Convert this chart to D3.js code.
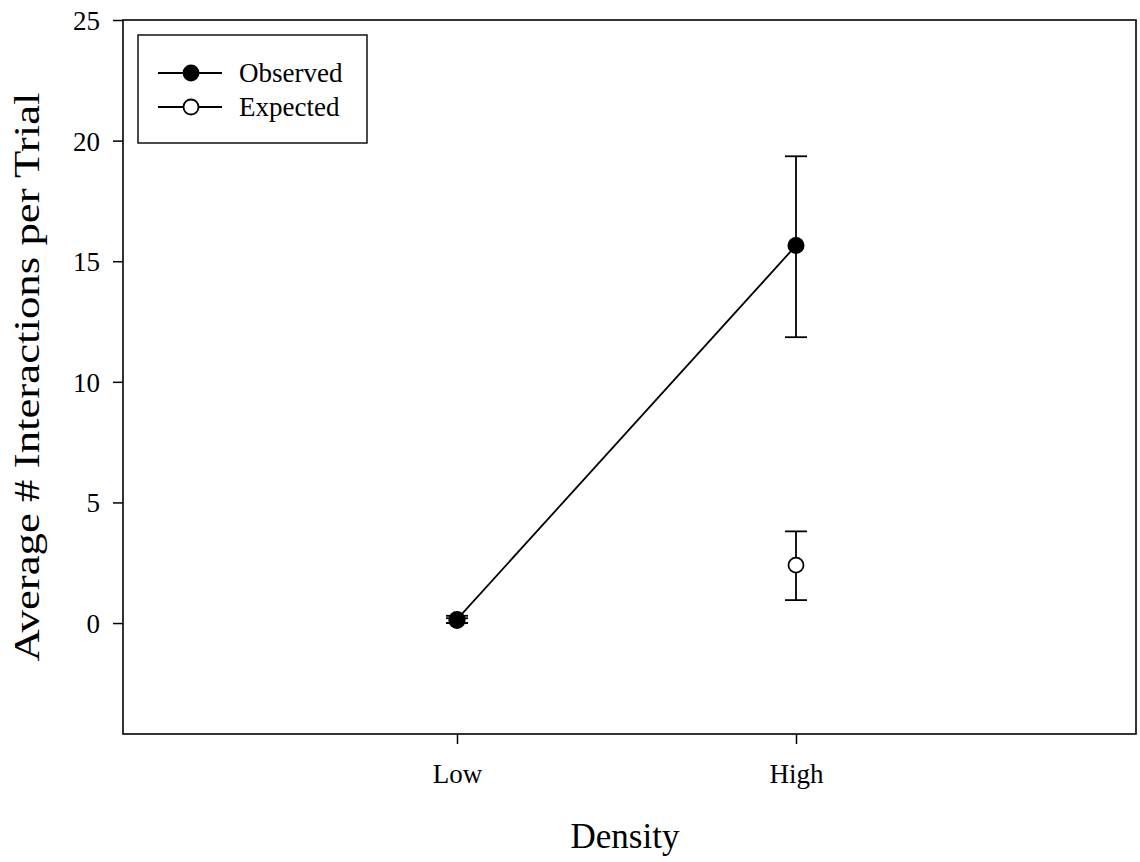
<!DOCTYPE html>
<html>
<head>
<meta charset="utf-8">
<script src="https://cdn.jsdelivr.net/npm/d3@7"></script>
<style>
  html, body { margin: 0; padding: 0; background: #fff; }
  svg text { font-family: "Liberation Serif", "Times New Roman", serif; fill: #000; }
</style>
</head>
<body>
<svg id="chart" width="1140" height="862"></svg>
<script>
// Density levels on the x axis
const categories = ["Low", "High"];
// Observed interactions: mean and error-bar bounds
const observedMean = [0.15, 15.65];
const observedLow  = [0.0, 11.85];
const observedHigh = [0.3, 19.35];
// Expected interactions: mean and error-bar bounds
const expectedMean = [0.1, 2.4];
const expectedLow  = [0.0, 0.95];
const expectedHigh = [0.2, 3.8];
const yTicks = [0, 5, 10, 15, 20, 25];

const svg = d3.select("#chart");
const frame = { left: 123, right: 1136, top: 20, bottom: 734 };

const x = d3.scaleLinear().domain([0, 3]).range([118, 1135]);
const xPos = c => x(categories.indexOf(c) + 1);
const y = d3.scaleLinear().domain([-4.6, 25]).range([frame.bottom, frame.top]);

// Frame
svg.append("rect")
  .attr("x", frame.left).attr("y", frame.top)
  .attr("width", frame.right - frame.left)
  .attr("height", frame.bottom - frame.top)
  .attr("fill", "none").attr("stroke", "#000").attr("stroke-width", 1.6);

// Y axis
const yAxis = d3.axisLeft(y).tickValues(yTicks).tickSize(10).tickPadding(13).tickFormat(d3.format("d"));
const gy = svg.append("g").attr("transform", `translate(${frame.left},0)`).call(yAxis);
gy.attr("font-size", null).attr("font-family", null);
gy.select(".domain").remove();
gy.selectAll(".tick line").attr("stroke", "#000").attr("stroke-width", 1.5);
gy.selectAll(".tick text").style("font-size", "27px").attr("dy", "0.35em");

// X axis
const xAxis = d3.axisBottom(x).tickValues([1, 2]).tickSize(10).tickPadding(39)
  .tickFormat(d => categories[d - 1]);
const gx = svg.append("g").attr("transform", `translate(0,${frame.bottom})`).call(xAxis);
gx.attr("font-size", null).attr("font-family", null);
gx.select(".domain").remove();
gx.selectAll(".tick line").attr("stroke", "#000").attr("stroke-width", 1.5);
gx.selectAll(".tick text").style("font-size", "27px").attr("dy", "0");

// Axis titles
svg.append("text")
  .attr("x", 625).attr("y", 848)
  .attr("text-anchor", "middle").style("font-size", "35px")
  .text("Density");
svg.append("text")
  .attr("transform", "translate(39,377) rotate(-90)")
  .attr("text-anchor", "middle").style("font-size", "36px")
  .attr("textLength", 569).attr("lengthAdjust", "spacingAndGlyphs")
  .text("Average # Interactions per Trial");

// Error bars
function errorBars(lo, hi) {
  const g = svg.append("g").attr("stroke", "#000").attr("stroke-width", 1.8);
  categories.forEach((c, i) => {
    const cx = xPos(c);
    g.append("line").attr("x1", cx).attr("x2", cx).attr("y1", y(lo[i])).attr("y2", y(hi[i]));
    [lo[i], hi[i]].forEach(v => {
      g.append("line").attr("x1", cx - 11).attr("x2", cx + 11).attr("y1", y(v)).attr("y2", y(v));
    });
  });
}

// Expected series (no connecting line)
errorBars(expectedLow, expectedHigh);
svg.append("g").selectAll("circle")
  .data(categories.map((c, i) => ({ c, v: expectedMean[i] })))
  .join("circle")
  .attr("cx", d => xPos(d.c)).attr("cy", d => y(d.v)).attr("r", 7.5)
  .attr("fill", "#fff").attr("stroke", "#000").attr("stroke-width", 1.8);

// Observed series
errorBars(observedLow, observedHigh);
const obs = categories.map((c, i) => ({ c, v: observedMean[i] }));
svg.append("path")
  .datum(obs)
  .attr("fill", "none").attr("stroke", "#000").attr("stroke-width", 1.8)
  .attr("d", d3.line().x(d => xPos(d.c)).y(d => y(d.v)));
svg.append("g").selectAll("circle")
  .data(obs)
  .join("circle")
  .attr("cx", d => xPos(d.c)).attr("cy", d => y(d.v)).attr("r", 8.5)
  .attr("fill", "#000");

// Legend
const legend = svg.append("g");
legend.append("rect")
  .attr("x", 138).attr("y", 35).attr("width", 229).attr("height", 108)
  .attr("fill", "#fff").attr("stroke", "#000").attr("stroke-width", 1.4);
const legendItems = [
  { label: "Observed", fill: "#000", yy: 73 },
  { label: "Expected", fill: "#fff", yy: 107 }
];
legendItems.forEach(it => {
  legend.append("line").attr("x1", 158).attr("x2", 222).attr("y1", it.yy).attr("y2", it.yy)
    .attr("stroke", "#000").attr("stroke-width", 1.8);
  legend.append("circle").attr("cx", 191).attr("cy", it.yy).attr("r", 7.5)
    .attr("fill", it.fill).attr("stroke", "#000").attr("stroke-width", 1.8);
  legend.append("text").attr("x", 239).attr("y", it.yy).attr("dy", "0.35em")
    .style("font-size", "27px").text(it.label);
});
</script>
</body>
</html>
